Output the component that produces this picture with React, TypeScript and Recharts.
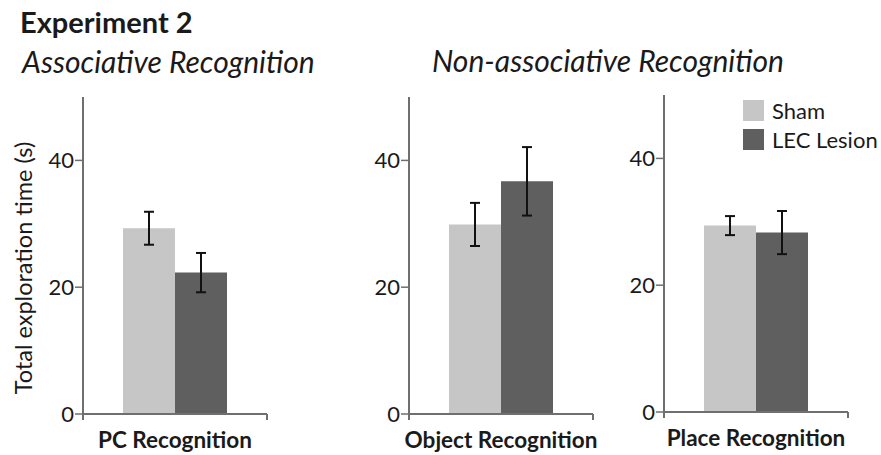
import React from "react";
import {
  BarChart,
  Bar,
  XAxis,
  YAxis,
  ErrorBar,
  usePlotArea,
} from "recharts";

// values (mean ± SEM, seconds)
const categories = ["PC Recognition", "Object Recognition", "Place Recognition"];
const shamMeans = [29.3, 29.9, 29.4];
const lesionMeans = [22.3, 36.7, 28.3];
const shamSem = [2.6, 3.4, 1.5];
const lesionSem = [3.1, 5.4, 3.4];
const yTicks = [0, 20, 40];
const seriesNames = ["Sham", "LEC Lesion"];

const FONT = "Lato, 'Open Sans', sans-serif";
const AXIS = "#6f6f6f";
const SHAM = "#c6c6c6";
const LESION = "#5f5f5f";
const seriesColors = [SHAM, LESION];

// one chart per panel, placed where the panels sit in the figure
const panels = [
  { left: 0, width: 282, yWidth: 83, top: 97, bottom: 41, yLabel: true },
  { left: 330, width: 276, yWidth: 79, top: 97, bottom: 41, yLabel: false },
  { left: 590, width: 291, yWidth: 74, top: 95, bottom: 43, yLabel: false },
];

function AxisStubs() {
  const plot = usePlotArea();
  if (!plot) return null;
  const bottom = plot.y + plot.height;
  const right = plot.x + plot.width;
  return (
    <g stroke={AXIS} strokeWidth={2}>
      <line x1={plot.x} y1={bottom} x2={plot.x} y2={bottom + 6} />
      <line x1={right} y1={bottom} x2={right} y2={bottom + 6} />
    </g>
  );
}

function CategoryTick({ x, y, payload }: any) {
  return (
    <text
      x={x}
      y={y}
      dy={34}
      textAnchor="middle"
      fontFamily={FONT}
      fontWeight={700}
      fontSize={22.5}
      fill="#1a1a1a"
    >
      {payload.value}
    </text>
  );
}

function Panel({ i }: { i: number }) {
  const p = panels[i];
  const data = [
    {
      name: categories[i],
      sham: shamMeans[i],
      lesion: lesionMeans[i],
      shamErr: shamSem[i],
      lesionErr: lesionSem[i],
    },
  ];
  return (
    <div style={{ position: "absolute", left: p.left, top: 0 }}>
      <BarChart
        width={p.width}
        height={455}
        data={data}
        margin={{ top: p.top, right: p.width - (p.yWidth + 184), bottom: 0, left: 0 }}
        barSize={52}
        barGap={0}
      >
        <XAxis
          dataKey="name"
          tick={<CategoryTick />}
          tickLine={false}
          tickSize={0}
          tickMargin={0}
          axisLine={{ stroke: AXIS, strokeWidth: 2 }}
          height={p.bottom}
        />
        <YAxis
          domain={[0, 50]}
          ticks={yTicks}
          width={p.yWidth}
          tickSize={8}
          tickMargin={1}
          tick={{ fontFamily: FONT, fontSize: 22, fill: "#1a1a1a" }}
          tickLine={{ stroke: AXIS, strokeWidth: 1.5 }}
          axisLine={{ stroke: AXIS, strokeWidth: 2 }}
          label={
            p.yLabel
              ? {
                  content: () => (
                    <text
                      x={23}
                      y={268}
                      transform="rotate(-90, 23, 268)"
                      textAnchor="middle"
                      dominantBaseline="central"
                      fontFamily={FONT}
                      fontSize={23.5}
                      fill="#1a1a1a"
                    >
                      Total exploration time (s)
                    </text>
                  ),
                }
              : undefined
          }
        />
        <Bar dataKey="sham" name={seriesNames[0]} fill={SHAM} isAnimationActive={false}>
          <ErrorBar dataKey="shamErr" width={5} stroke="#111" strokeWidth={2} />
        </Bar>
        <Bar dataKey="lesion" name={seriesNames[1]} fill={LESION} isAnimationActive={false}>
          <ErrorBar dataKey="lesionErr" width={5} stroke="#111" strokeWidth={2} />
        </Bar>
        <AxisStubs />
      </BarChart>
    </div>
  );
}

export default function App() {
  return (
    <div
      style={{
        position: "absolute",
        left: 0,
        top: 0,
        width: 881,
        height: 455,
        background: "#fff",
        fontFamily: FONT,
      }}
    >
      {[0, 1, 2].map((i) => (
        <Panel key={i} i={i} />
      ))}
      <div
        style={{
          position: "absolute",
          left: 743,
          top: 96,
          fontSize: 22,
          color: "#1a1a1a",
        }}
      >
        {seriesNames.map((n, k) => (
          <div key={n} style={{ display: "flex", alignItems: "center", height: 29 }}>
            <span
              style={{
                display: "inline-block",
                width: 21,
                height: 21,
                background: seriesColors[k],
                marginRight: 8,
              }}
            />
            {n}
          </div>
        ))}
      </div>
      <svg
        width={881}
        height={90}
        style={{ position: "absolute", left: 0, top: 0, pointerEvents: "none" }}
      >
        <text x={20} y={33} fontFamily={FONT} fontWeight={700} fontSize={29} fill="#1a1a1a">
          Experiment 2
        </text>
        <text x={22} y={73} fontFamily={FONT} fontStyle="italic" fontSize={30} fill="#1a1a1a">
          Associative Recognition
        </text>
        <text x={432} y={72} fontFamily={FONT} fontStyle="italic" fontSize={30} fill="#1a1a1a">
          Non-associative Recognition
        </text>
      </svg>
    </div>
  );
}
